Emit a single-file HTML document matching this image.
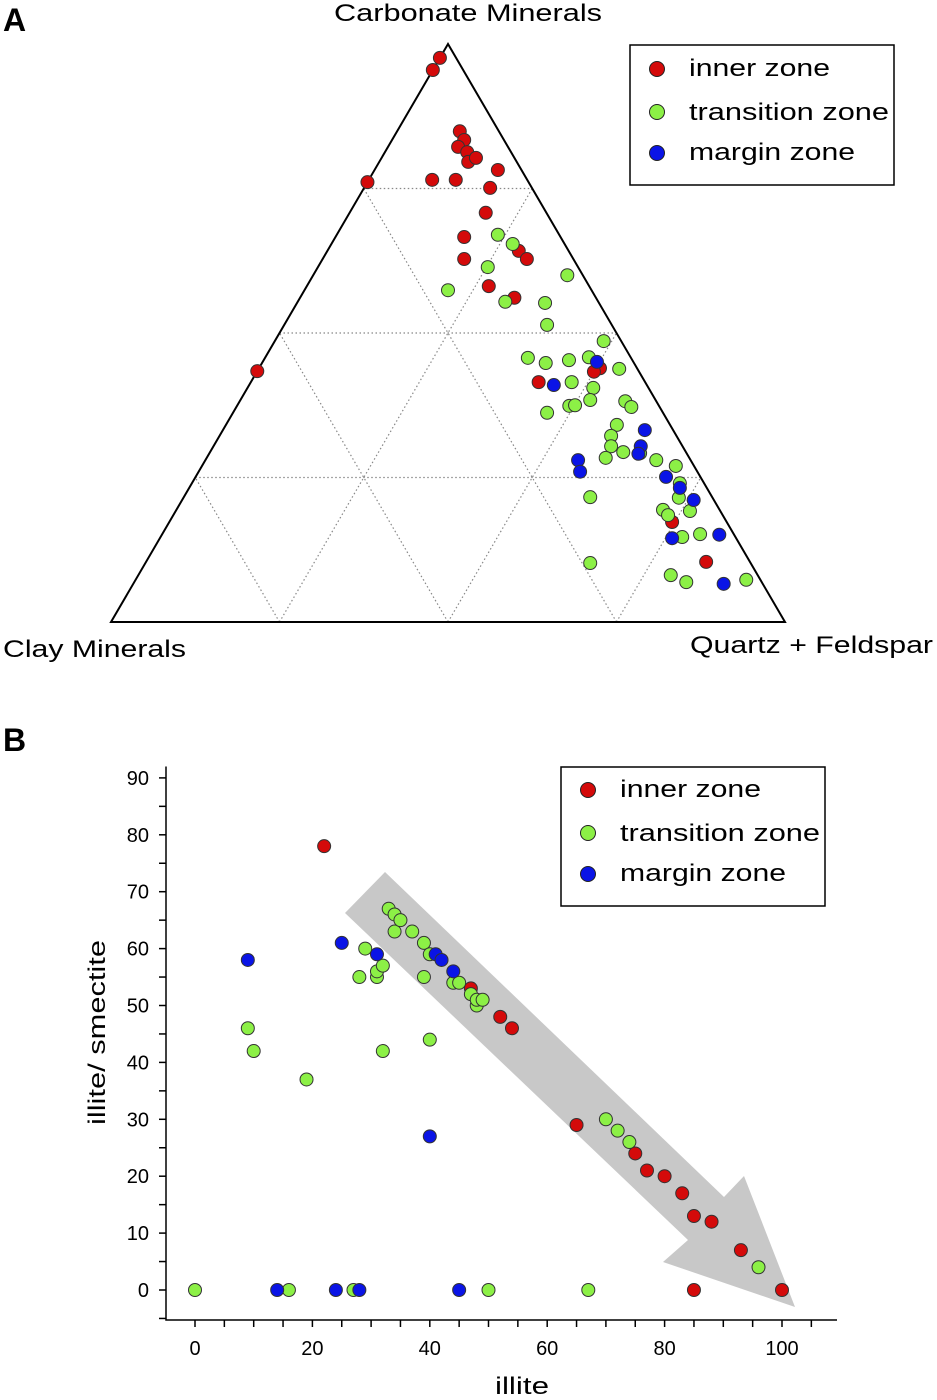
<!DOCTYPE html>
<html><head><meta charset="utf-8"><style>
body{margin:0;background:#fff;}
svg{display:block;font-family:"Liberation Sans",Arial,sans-serif;}
</style></head><body>
<svg id="fig" width="937" height="1400" viewBox="0 0 937 1400">
<text x="3" y="31" font-size="32" font-weight="bold">A</text>
<text x="3" y="751" font-size="32" font-weight="bold">B</text>
<g id="tern"></g>
<text x="334" y="21" font-size="24" textLength="268" lengthAdjust="spacingAndGlyphs">Carbonate Minerals</text>
<text x="3" y="657" font-size="24" textLength="183" lengthAdjust="spacingAndGlyphs">Clay Minerals</text>
<text x="690" y="653" font-size="24" textLength="243" lengthAdjust="spacingAndGlyphs">Quartz + Feldspar</text>
<g>
<rect x="630" y="45" width="264" height="140" fill="#fff" stroke="#000" stroke-width="1.5"/>
<circle cx="657" cy="69" r="7.5" fill="#d40a0a" stroke="#222"/><text x="689" y="76" font-size="24" textLength="141" lengthAdjust="spacingAndGlyphs">inner zone</text>
<circle cx="657" cy="112" r="7.5" fill="#8cf046" stroke="#222"/><text x="689" y="120" font-size="24" textLength="200" lengthAdjust="spacingAndGlyphs">transition zone</text>
<circle cx="657" cy="153" r="7.5" fill="#0a14e6" stroke="#222"/><text x="689" y="160" font-size="24" textLength="166" lengthAdjust="spacingAndGlyphs">margin zone</text>
</g>
<g id="scat"></g>
<g>
<rect x="561" y="767" width="264" height="139" fill="#fff" stroke="#000" stroke-width="1.5"/>
<circle cx="588" cy="790" r="7.5" fill="#d40a0a" stroke="#222"/><text x="620" y="797" font-size="24" textLength="141" lengthAdjust="spacingAndGlyphs">inner zone</text>
<circle cx="588" cy="833" r="7.5" fill="#8cf046" stroke="#222"/><text x="620" y="841" font-size="24" textLength="200" lengthAdjust="spacingAndGlyphs">transition zone</text>
<circle cx="588" cy="874" r="7.5" fill="#0a14e6" stroke="#222"/><text x="620" y="881" font-size="24" textLength="166" lengthAdjust="spacingAndGlyphs">margin zone</text>
</g>
<text x="495" y="1394" font-size="24" textLength="54" lengthAdjust="spacingAndGlyphs">illite</text>
<text transform="translate(105,1125) rotate(-90)" font-size="24" textLength="185" lengthAdjust="spacingAndGlyphs">illite/ smectite</text>
</svg>
<script>
// Ternary data: [carbonate %, quartz+feldspar %]
const ternInner=[[97.6,0],[95.5,0],[76.1,0],[76.5,9.4],[76.5,12.9],[84.9,9.3],[83.4,10.7],[82.2,10.4],[81.3,12.2],[79.6,13.2],[80.3,14.0],[78.2,18.3],[75.1,18.7],[70.8,20.2],[66.6,19.1],[62.8,21.0],[58.1,27.0],[56.1,31.8],[64.2,28.4],[62.8,30.3],[41.5,42.7],[43.9,50.6],[43.3,50.0],[43.4,0],[17.3,74.6],[10.4,83.1]];
const ternTransition=[[57.4,21.3],[67.0,23.9],[65.4,26.9],[61.4,25.2],[55.4,30.8],[60.0,37.7],[55.2,36.8],[51.4,39.0],[45.7,39.0],[44.8,42.1],[45.3,45.3],[45.8,48.0],[48.6,48.8],[43.8,53.5],[41.5,47.6],[40.5,51.3],[38.4,51.9],[36.2,46.6],[37.4,49.3],[37.5,50.1],[38.2,57.2],[37.2,58.6],[34.1,58.0],[32.2,58.1],[30.4,59.0],[28.4,59.2],[29.4,61.3],[29.2,63.9],[28.0,66.9],[27.0,70.3],[24.0,72.4],[21.5,73.5],[19.2,76.3],[19.4,72.2],[18.5,73.4],[14.7,77.4],[15.2,79.8],[21.6,60.3],[10.2,66.0],[8.1,79.0],[6.9,81.9],[7.3,90.6]];
const ternMargin=[[45.0,49.6],[41.0,45.2],[33.2,62.6],[30.4,63.4],[29.1,63.7],[28.0,55.3],[26.0,56.6],[25.1,69.8],[23.2,72.8],[21.1,75.9],[14.5,76.0],[15.1,82.7],[6.6,87.6]];
const gridLevels=[25,50,75];
// Scatter data: [illite, illite/smectite]
const bInner=[[22,78],[47,53],[52,48],[54,46],[65,29],[75,24],[77,21],[80,20],[83,17],[85,13],[88,12],[93,7],[100,0],[85,0]];
const bTransition=[[0,0],[16,0],[27,0],[50,0],[67,0],[9,46],[10,42],[19,37],[28,55],[29,60],[31,55],[31,56],[32,57],[32,42],[33,67],[34,66],[34,63],[35,65],[37,63],[39,61],[39,55],[40,59],[40,44],[44,54],[45,54],[47,52],[48,50],[48,51],[49,51],[70,30],[72,28],[74,26],[96,4]];
const bMargin=[[9,58],[14,0],[24,0],[28,0],[25,61],[31,59],[41,59],[42,58],[44,56],[40,27],[45,0]];
const xTicks=[0,20,40,60,80,100];
const yTicks=[0,10,20,30,40,50,60,70,80,90];

const NS="http://www.w3.org/2000/svg";
const COL={inner:"#d40a0a",transition:"#8cf046",margin:"#0a14e6"};
function mk(tag,attrs,parent){const e=document.createElementNS(NS,tag);for(const k in attrs)e.setAttribute(k,attrs[k]);parent.appendChild(e);return e;}
const TX0=111,TW=674,TY0=622,TH=578;
function tp(c,q){return [TX0+(q+c/2)/100*TW, TY0-c/100*TH];}
const tern=document.getElementById('tern');
gridLevels.forEach(v=>{
  let a,b;
  a=tp(v,0);b=tp(v,100-v);
  let l=mk('line',{x1:a[0],y1:a[1],x2:b[0],y2:b[1],stroke:'#888','stroke-width':1.2,'stroke-dasharray':'1.5,2.5'},tern);
  
  
  a=tp(0,v);b=tp(100-v,v);
  l=mk('line',{x1:a[0],y1:a[1],x2:b[0],y2:b[1],stroke:'#888','stroke-width':1.2,'stroke-dasharray':'1.5,2.5'},tern);
  
  
  a=tp(0,100-v);b=tp(100-v,0);
  l=mk('line',{x1:a[0],y1:a[1],x2:b[0],y2:b[1],stroke:'#888','stroke-width':1.2,'stroke-dasharray':'1.5,2.5'},tern);
  
  
});
const A=tp(100,0),B=tp(0,0),C=tp(0,100);
const tri=mk('polygon',{points:`${A} ${B} ${C}`,fill:'none',stroke:'#000','stroke-width':2},tern);


function ternDots(arr,zone){arr.forEach(d=>{const p=tp(d[0],d[1]);
  const c=mk('circle',{cx:p[0],cy:p[1],r:6.5,fill:COL[zone],stroke:'#333','stroke-width':1},tern);
  
  });}
ternDots(ternInner,'inner');ternDots(ternTransition,'transition');ternDots(ternMargin,'margin');

const sc=document.getElementById('scat');
function sx(v){return 195+v*5.87;}
function sy(v){return 1290-v*5.69;}
const arrow=mk('polygon',{points:'345,913 385,872 724,1197 744,1176 795,1307 663,1262 688,1240',fill:'#c8c8c8'},sc);


const ax=mk('path',{d:`M166,${sy(92)} L166,1320 L837,1320`,fill:'none',stroke:'#000','stroke-width':1.5},sc);


for(let v=-5;v<=110;v+=5){if(sx(v)<166||sx(v)>837)continue;mk('line',{x1:sx(v),y1:1320,x2:sx(v),y2:1327,stroke:'#000','stroke-width':1.5},sc);}
xTicks.forEach(v=>{const t=mk('text',{x:sx(v),y:1355,'font-size':20,'text-anchor':'middle'},sc);t.textContent=v;
  
  });
for(let v=-5;v<=90;v+=5){mk('line',{x1:159,y1:sy(v),x2:166,y2:sy(v),stroke:'#000','stroke-width':1.5},sc);}
yTicks.forEach(v=>{const t=mk('text',{x:149,y:sy(v)+7,'font-size':20,'text-anchor':'end'},sc);t.textContent=v;
  
  });
function bDots(arr,zone){arr.forEach(d=>{
  const c=mk('circle',{cx:sx(d[0]),cy:sy(d[1]),r:6.5,fill:COL[zone],stroke:'#333','stroke-width':1},sc);
  
  });}
bDots(bInner,'inner');bDots(bTransition,'transition');bDots(bMargin,'margin');
</script>
</body></html>
